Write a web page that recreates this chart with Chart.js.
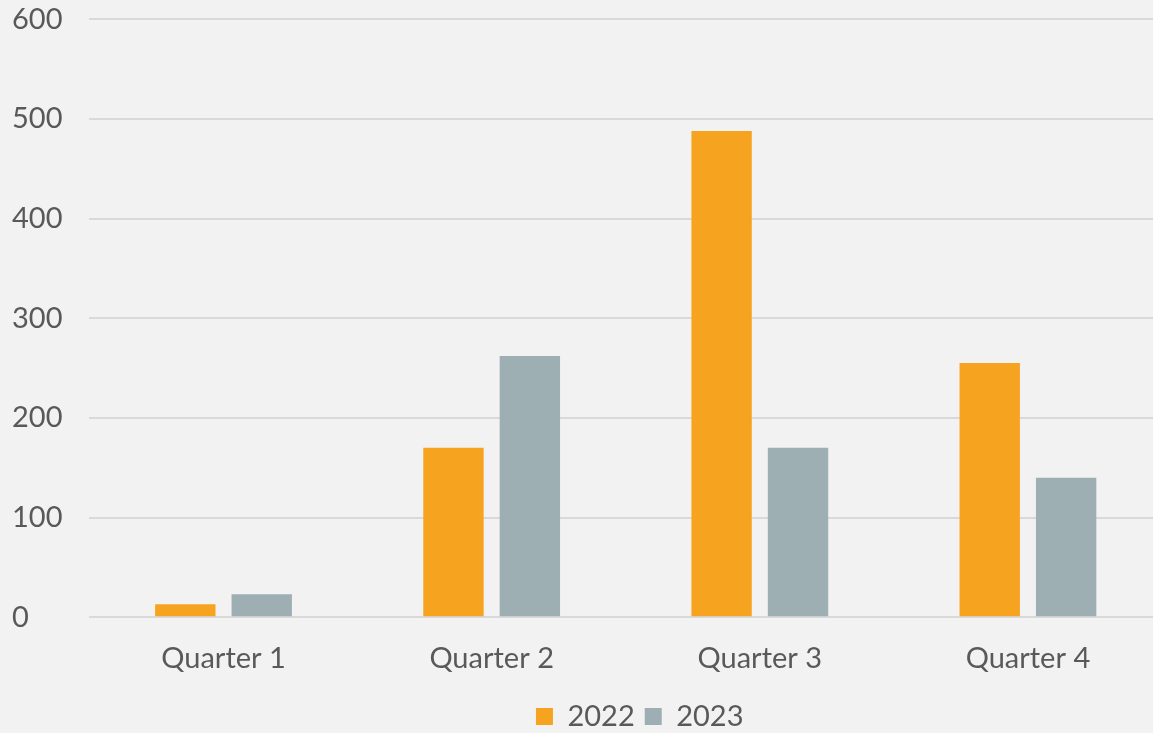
<!DOCTYPE html>
<html>
<head>
<meta charset="utf-8">
<script src="https://cdn.jsdelivr.net/npm/chart.js@4/dist/chart.umd.min.js"></script>
<style>
  html, body { margin: 0; padding: 0; background: #f2f2f2; overflow: hidden; }
  /* the original plot runs a little past the right edge of the picture */
  #wrap { width: 1162px; height: 733px; }
</style>
</head>
<body>
<div id="wrap"><canvas id="barChart"></canvas></div>
<script>
var categories = ['Quarter 1', 'Quarter 2', 'Quarter 3', 'Quarter 4'];
var values2022 = [13, 170, 488, 255];
var values2023 = [23, 262, 170, 140];
var yTicks = [0, 100, 200, 300, 400, 500, 600];

var textColor = '#595959';
var fontFamily = "Lato, 'Open Sans', sans-serif";

var data = {
  labels: categories,
  datasets: [
    {
      label: '2022',
      backgroundColor: '#f6a420',
      data: values2022,
      categoryPercentage: 0.57,
      barPercentage: 0.79,
    },
    {
      label: '2023',
      backgroundColor: '#9eafb4',
      data: values2023,
      categoryPercentage: 0.57,
      barPercentage: 0.79,
    },
  ],
};

// nudge the legend a bit right, like the original
var legendShift = {
  id: 'legendShift',
  afterLayout: function (chart) {
    chart.legend.left += 14;
    chart.legend.right += 14;
  }
};

const options = {
  responsive: true,
  maintainAspectRatio: false,
  animation: false,
  layout: {
    padding: { top: 0, left: 12, right: 0, bottom: -8 }
  },
  plugins: {
    legend: {
      position: 'bottom',
      fullSize: false,
      labels: {
        color: textColor,
        font: { family: fontFamily, size: 29 },
        boxWidth: 17,
        boxHeight: 17,
        padding: 10,
      }
    },
    tooltip: { enabled: false }
  },
  scales: {
    x: {
      grid: { display: false },
      border: { display: false },
      ticks: {
        color: textColor,
        font: { family: fontFamily, size: 29 },
        padding: 16,
      }
    },
    y: {
      min: 0,
      max: 600,
      afterBuildTicks: function (axis) {
        axis.ticks = yTicks.map(function (v) { return { value: v }; });
      },
      grid: {
        color: '#d9d9d9',
        lineWidth: 2,
        drawTicks: false,
      },
      border: { display: false },
      ticks: {
        color: textColor,
        font: { family: fontFamily, size: 29, lineHeight: 0.4 },
        crossAlign: 'far',
        padding: 13.5,
      }
    }
  }
};

var ctx = document.getElementById('barChart').getContext('2d');
var myBarChart = new Chart(ctx, {
  type: 'bar',
  data: data,
  options: options,
  plugins: [legendShift],
});
</script>
</body>
</html>
